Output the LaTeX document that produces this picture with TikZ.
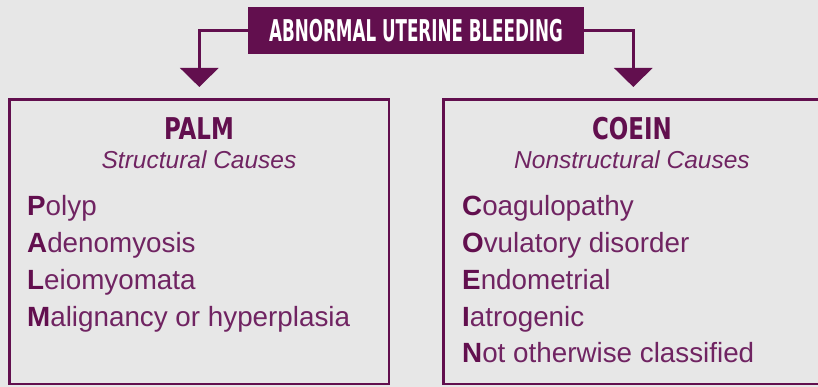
\documentclass[tikz,border=0pt]{standalone}
\usepackage{fontspec}
\setmainfont{Liberation Sans}
\newfontfamily\headfont[FakeStretch=0.62]{DejaVu Sans Condensed Bold}
\newfontfamily\groupfont[FakeStretch=0.85]{DejaVu Sans Condensed Bold}
\usetikzlibrary{arrows.meta,positioning}

\definecolor{aubpurple}{HTML}{620F4E}
\definecolor{aubtext}{HTML}{702462}
\definecolor{aubbg}{HTML}{E7E7E7}

\newcommand{\firstletter}[1]{{\bfseries\color{aubpurple}#1}}

\begin{document}
\begin{tikzpicture}[x=1pt, y=-1pt,
	header/.style={fill=aubpurple, text=white, minimum width=336pt, minimum height=47pt, inner sep=0pt, font=\headfont\fontsize{30}{30}\selectfont},
	panel/.style={draw=aubpurple, line width=2.6pt},
	group/.style={text=aubpurple, inner sep=0pt, anchor=base, font=\groupfont\fontsize{30}{30}\selectfont},
	subtitle/.style={text=aubtext, inner sep=0pt, anchor=base, font=\fontsize{24.5}{24.5}\selectfont\itshape},
	item/.style={text=aubtext, inner sep=0pt, anchor=base west, font=\fontsize{27.8}{27.8}\selectfont},
	link/.style={draw=aubpurple, line width=3.2pt, -{Triangle[width=38pt, length=19pt]}}]

	\fill[aubbg] (0,0) rectangle (818,387);
	\useasboundingbox (0,0) rectangle (818,387);

	% title and arrows
	\node[header] (aub) at (416,30.5) {ABNORMAL UTERINE BLEEDING};
	\coordinate (palmtip) at (199.3,87);
	\coordinate (coeintip) at (633.3,87);
	\draw[link] (aub.west) -| (palmtip);
	\draw[link] (aub.east) -| (coeintip);

	% structural causes
	\node[panel, minimum width=379.5pt, minimum height=284.5pt] (palmbox) at (199.25,241.75) {};
	\node[group] (palm) at (199,140) {PALM};
	\node[subtitle] (palmsub) at (199,169) {Structural Causes};
	\node[item] (p) at (27,215) {\firstletter{P}olyp};
	\node[item] (a) at (27,252) {\firstletter{A}denomyosis};
	\node[item] (l) at (27,289) {\firstletter{L}eiomyomata};
	\node[item] (m) at (27,326) {\firstletter{M}alignancy or hyperplasia};

	% nonstructural causes
	\node[panel, minimum width=377.5pt, minimum height=284.5pt] (coeinbox) at (632.25,241.75) {};
	\node[group] (coein) at (632,140) {COEIN};
	\node[subtitle] (coeinsub) at (632,169) {Nonstructural Causes};
	\node[item] (c) at (462,215) {\firstletter{C}oagulopathy};
	\node[item] (o) at (462,252) {\firstletter{O}vulatory disorder};
	\node[item] (e) at (462,289) {\firstletter{E}ndometrial};
	\node[item] (i) at (462,326) {\firstletter{I}atrogenic};
	\node[item] (n) at (462,362) {\firstletter{N}ot otherwise classified};
\end{tikzpicture}
\end{document}
